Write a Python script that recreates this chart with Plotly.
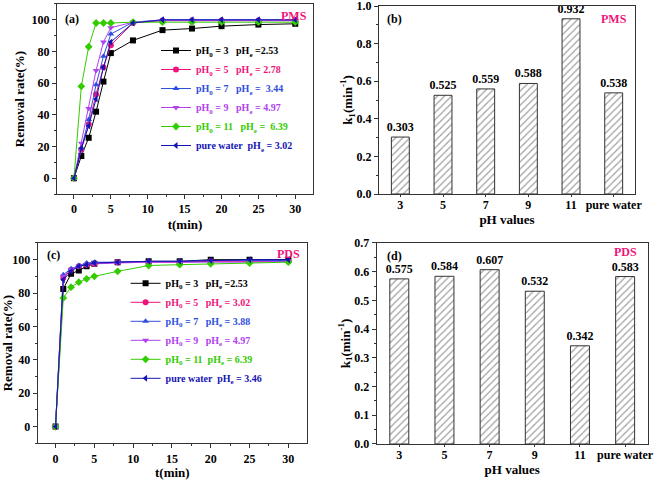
import plotly.graph_objects as go

# ---------------- data ----------------
t_min = [0, 1, 2, 3, 4, 5, 8, 12, 16, 20, 25, 30]

pms_labels = ["pH<sub>0</sub> = 3   pH<sub>e</sub> =2.53",
              "pH<sub>0</sub> = 5   pH<sub>e</sub> = 2.78",
              "pH<sub>0</sub> = 7   pH<sub>e</sub> =  3.44",
              "pH<sub>0</sub> = 9   pH<sub>e</sub> = 4.97",
              "pH<sub>0</sub> = 11   pH<sub>e</sub> =  6.39",
              "pure water  pH<sub>e</sub> = 3.02"]
pms_ph3 = [0, 14, 25.5, 42, 61, 79, 87, 93.5, 94.5, 96, 97, 97.5]
pms_ph5 = [0, 18, 34, 53, 70, 84, 98, 99.5, 99.5, 99.5, 99.5, 99.5]
pms_ph7 = [0, 19, 37, 59, 77, 91, 98.5, 100, 100, 100, 100, 100]
pms_ph9 = [0, 22, 44, 68, 86, 95, 98.5, 99.5, 99.5, 99.5, 99.5, 99.5]
pms_ph11 = [0, 58, 83, 98, 98, 98, 98.5, 98.5, 98.5, 98.5, 98.5, 98.5]
pms_pure = [0, 19, 33, 50, 70, 86, 98, 100, 100, 100, 100, 100]

pds_labels = ["pH<sub>0</sub> = 3   pH<sub>e</sub> =2.53",
              "pH<sub>0</sub> = 5   pH<sub>e</sub> = 3.02",
              "pH<sub>0</sub> = 7   pH<sub>e</sub> = 3.88",
              "pH<sub>0</sub> = 9   pH<sub>e</sub> = 4.97",
              "pH<sub>0</sub> = 11  pH<sub>e</sub> = 6.39",
              "pure water  pH<sub>e</sub> = 3.46"]
pds_ph3 = [0, 82.5, 91.5, 93.5, 96, 97.5, 98.5, 99, 99, 100, 100, 100]
pds_ph5 = [0, 89, 94, 96, 97, 97.5, 98.5, 98.5, 98.5, 99, 99, 99]
pds_ph7 = [0, 91, 94.5, 96.5, 98, 98.5, 98.5, 99, 99, 99.5, 99.5, 99.5]
pds_ph9 = [0, 90, 94, 96, 97, 97.5, 98, 98.5, 98.5, 98.5, 98.5, 99]
pds_ph11 = [0, 77, 83.5, 86.5, 88.5, 90, 93, 96.5, 97, 97.5, 98, 98.5]
pds_pure = [0, 88, 93, 96, 97, 98, 98.5, 99, 99, 99.5, 100, 100]

ph_categories = ["3", "5", "7", "9", "11", "pure water"]
k_pms = [0.303, 0.525, 0.559, 0.588, 0.932, 0.538]
k_pds = [0.575, 0.584, 0.607, 0.532, 0.342, 0.583]

# ---------------- styles ----------------
colors = ["#000000", "#F0147A", "#2F4FE0", "#B040F0", "#33CC00", "#1414B4"]
symbols = ["square", "circle", "triangle-up", "triangle-down", "diamond", "triangle-left"]
FONT = "Liberation Serif"

fig = go.Figure()

def add_lines(series, labels, xa, ya, legend):
    for s, lab, c, sym in zip(series, labels, colors, symbols):
        fig.add_trace(go.Scatter(
            x=t_min, y=s, mode="lines+markers",
            name='<span style="color:%s"><b>%s</b></span>' % (c, lab),
            line=dict(color=c, width=1),
            marker=dict(symbol=sym, size=6, color=c),
            xaxis=xa, yaxis=ya, legend=legend))

add_lines([pms_ph3, pms_ph5, pms_ph7, pms_ph9, pms_ph11, pms_pure], pms_labels, "x", "y", "legend")
add_lines([pds_ph3, pds_ph5, pds_ph7, pds_ph9, pds_ph11, pds_pure], pds_labels, "x3", "y3", "legend2")

def add_bars(vals, xa, ya):
    fig.add_trace(go.Bar(
        x=ph_categories, y=vals, width=0.42,
        text=["%.3f" % v for v in vals], textposition="outside",
        constraintext="none",
        outsidetextfont=dict(family=FONT, size=12, color="#000000", weight="bold"),
        cliponaxis=False,
        marker=dict(color="white", line=dict(color="#333333", width=1),
                    pattern=dict(shape="/", fgcolor="#444444", bgcolor="white", size=5, solidity=0.25)),
        showlegend=False, xaxis=xa, yaxis=ya))

add_bars(k_pms, "x2", "y2")
add_bars(k_pds, "x4", "y4")

tickfont = dict(family=FONT, size=12, color="black", weight="bold")
titlefont = dict(family=FONT, size=13, color="black")

def ax_common():
    return dict(showline=True, mirror=True, linecolor="#333333", linewidth=1,
                ticks="outside", ticklen=4, tickcolor="#333333", automargin=False,
                ticklabeloverflow="allow",
                tickfont=tickfont, showgrid=False, zeroline=False)

def xa_line(dom, anchor, so):
    return dict(**ax_common(), domain=dom, anchor=anchor, range=[-2.3, 32.4],
                tickvals=[0, 5, 10, 15, 20, 25, 30],
                minor=dict(ticks="outside", ticklen=2, dtick=2.5, tickcolor="#333333"),
                title=dict(text="<b>t(min)</b>", font=titlefont, standoff=so))

def ya_line(dom, anchor, so):
    return dict(**ax_common(), domain=dom, anchor=anchor, range=[-10, 110],
                tickvals=[0, 20, 40, 60, 80, 100],
                minor=dict(ticks="outside", ticklen=2, dtick=10, tickcolor="#333333"),
                title=dict(text="<b>Removal rate(%)</b>", font=titlefont, standoff=so))

def xa_bar(dom, anchor, so):
    d = ax_common()
    d["ticklen"] = 2
    return dict(**d, domain=dom, anchor=anchor, range=[-0.5, 5.5],
                type="category", ticklabelstandoff=-2,
                title=dict(text="<b>pH values</b>", font=titlefont, standoff=so))

def ya_bar(dom, anchor, rng, dt, mdt, so):
    return dict(**ax_common(), domain=dom, anchor=anchor, range=rng,
                dtick=dt, tickformat=".1f",
                minor=dict(ticks="outside", ticklen=2, dtick=mdt, tickcolor="#333333"),
                title=dict(text="<b>k<sub>1</sub>(min<sup>-1</sup>)</b>", font=titlefont, standoff=so))

fig.update_layout(
    width=661, height=480, margin=dict(l=0, r=0, t=0, b=0),
    paper_bgcolor="white", plot_bgcolor="white",
    font=dict(family=FONT, color="black"),
    xaxis=xa_line([0.0862, 0.4735], "y", 4),
    yaxis=ya_line([0.5958, 0.9917], "x", 4),
    xaxis2=xa_bar([0.5734, 0.9607], "y2", 0),
    yaxis2=ya_bar([0.5958, 0.9875], "x2", [0, 1.0], 0.2, 0.1, 0),
    xaxis3=xa_line([0.057, 0.4644], "y3", 2),
    yaxis3=ya_line([0.0765, 0.4938], "x3", 0),
    xaxis4=xa_bar([0.5699, 0.9799], "y4", 0),
    yaxis4=ya_bar([0.075, 0.4938], "x4", [0, 0.7], 0.1, 0.05, 0),
    legend=dict(x=0.236, y=0.925, xanchor="left", yanchor="top", bgcolor="rgba(0,0,0,0)",
                font=dict(family=FONT, size=10), itemwidth=30, tracegroupgap=0),
    legend2=dict(x=0.19, y=0.44, xanchor="left", yanchor="top", bgcolor="rgba(0,0,0,0)",
                 font=dict(family=FONT, size=10), itemwidth=30, tracegroupgap=0),
    annotations=[
        dict(text="<b>(a)</b>", x=0.095, y=0.98, xref="paper", yref="paper", xanchor="left", yanchor="top",
             showarrow=False, font=dict(family=FONT, size=12)),
        dict(text="<b>PMS</b>", x=0.467, y=0.985, xref="paper", yref="paper", xanchor="right", yanchor="top",
             showarrow=False, font=dict(family=FONT, size=12, color="#F0147A")),
        dict(text="<b>(b)</b>", x=0.582, y=0.98, xref="paper", yref="paper", xanchor="left", yanchor="top",
             showarrow=False, font=dict(family=FONT, size=12)),
        dict(text="<b>PMS</b>", x=0.952, y=0.98, xref="paper", yref="paper", xanchor="right", yanchor="top",
             showarrow=False, font=dict(family=FONT, size=12, color="#F0147A")),
        dict(text="<b>(c)</b>", x=0.068, y=0.488, xref="paper", yref="paper", xanchor="left", yanchor="top",
             showarrow=False, font=dict(family=FONT, size=12)),
        dict(text="<b>PDS</b>", x=0.457, y=0.49, xref="paper", yref="paper", xanchor="right", yanchor="top",
             showarrow=False, font=dict(family=FONT, size=12, color="#F0147A")),
        dict(text="<b>(d)</b>", x=0.582, y=0.485, xref="paper", yref="paper", xanchor="left", yanchor="top",
             showarrow=False, font=dict(family=FONT, size=12)),
        dict(text="<b>PDS</b>", x=0.966, y=0.494, xref="paper", yref="paper", xanchor="right", yanchor="top",
             showarrow=False, font=dict(family=FONT, size=12, color="#F0147A")),
    ],
)

fig.write_html("out.html", config={"displayModeBar": False},
               post_script="document.body.style.margin='0';")
